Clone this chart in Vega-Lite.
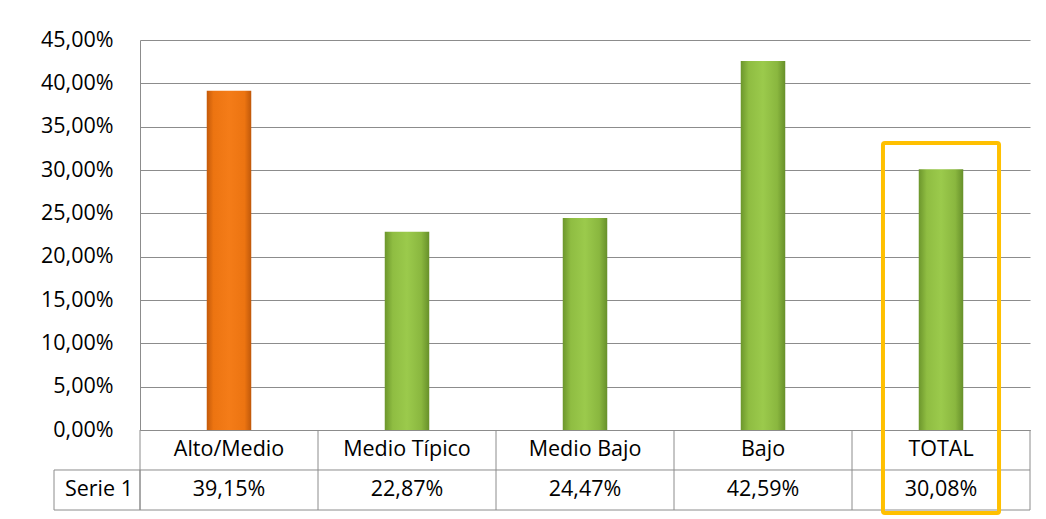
{
  "$schema": "https://vega.github.io/schema/vega-lite/v6.json",
  "width": 890,
  "height": 390,
  "autosize": {"type": "none"},
  "padding": {"left": 140, "top": 40, "right": 16, "bottom": 89},
  "background": "white",
  "config": {
    "font": "Open Sans",
    "view": {"stroke": null},
    "locale": {"number": {"decimal": ",", "thousands": ".", "grouping": [3], "currency": ["", " €"]}}
  },
  "data": {"values": [
    {"cat": "Alto/Medio", "value": 0.3915},
    {"cat": "Medio Típico", "value": 0.2287},
    {"cat": "Medio Bajo", "value": 0.2447},
    {"cat": "Bajo", "value": 0.4259},
    {"cat": "TOTAL", "value": 0.3008}
  ]},
  "resolve": {"scale": {"x": "shared", "y": "shared"}},
  "layer": [
    {
      "mark": {"type": "bar", "width": {"band": 0.25}},
      "encoding": {
        "x": {"field": "cat", "type": "nominal", "sort": null,
          "scale": {"paddingInner": 0, "paddingOuter": 0},
          "axis": {"title": null, "labelAngle": 0, "labelFontSize": 21.5, "labelColor": "#000000", "labelPadding": 8, "ticks": false, "domain": true, "domainColor": "#8c8c8c", "grid": false}},
        "y": {"field": "value", "type": "quantitative",
          "scale": {"domain": [0, 0.45], "nice": false, "zero": false},
          "axis": {"title": null, "values": [0, 0.05, 0.1, 0.15, 0.2, 0.25, 0.3, 0.35, 0.4, 0.45], "format": ".2%", "labelFontSize": 21.5, "labelColor": "#000000", "labelPadding": 27, "ticks": false, "domain": true, "domainColor": "#8c8c8c", "grid": true, "gridColor": "#8c8c8c", "gridWidth": 1}},
        "color": {
          "condition": {"test": "datum.cat === 'Alto/Medio'", "value": {"gradient": "linear", "x1": 0, "x2": 1, "y1": 0, "y2": 0, "stops": [
            {"offset": 0, "color": "#C45A0A"}, {"offset": 0.15, "color": "#EC7411"}, {"offset": 0.5, "color": "#F47C18"}, {"offset": 0.85, "color": "#EC7411"}, {"offset": 1, "color": "#BF580A"}]}},
          "value": {"gradient": "linear", "x1": 0, "x2": 1, "y1": 0, "y2": 0, "stops": [
            {"offset": 0, "color": "#6C962C"}, {"offset": 0.18, "color": "#8FBD42"}, {"offset": 0.5, "color": "#9BCA4C"}, {"offset": 0.82, "color": "#8AB73F"}, {"offset": 1, "color": "#67902A"}]}
        }
      }
    },
    {
      "mark": {"type": "text", "fontSize": 21.5, "color": "#000000", "baseline": "middle", "align": "center"},
      "encoding": {
        "x": {"field": "cat", "type": "nominal", "sort": null},
        "y": {"datum": -0.06923},
        "text": {"field": "value", "type": "quantitative", "format": ".2%"}
      }
    },
    {
      "data": {"values": [{}]},
      "mark": {"type": "rule", "color": "#8c8c8c", "strokeWidth": 1},
      "encoding": {"y": {"datum": -0.04615}}
    },
    {
      "data": {"values": [{}]},
      "mark": {"type": "rule", "color": "#8c8c8c", "strokeWidth": 1},
      "encoding": {"y": {"datum": -0.09231}}
    },
    {
      "mark": {"type": "rule", "color": "#8c8c8c", "strokeWidth": 1},
      "encoding": {
        "x": {"field": "cat", "type": "nominal", "sort": null, "bandPosition": 0},
        "y": {"datum": 0},
        "y2": {"datum": -0.09231}
      }
    },
    {
      "transform": [{"filter": "datum.cat === 'TOTAL'"}],
      "mark": {"type": "rule", "color": "#8c8c8c", "strokeWidth": 1},
      "encoding": {
        "x": {"field": "cat", "type": "nominal", "sort": null, "bandPosition": 1},
        "y": {"datum": 0},
        "y2": {"datum": -0.09231}
      }
    },
    {
      "transform": [{"filter": "datum.cat === 'Alto/Medio'"}],
      "mark": {"type": "rect", "fill": null, "stroke": "#8c8c8c", "strokeWidth": 1, "xOffset": -86, "x2Offset": -89},
      "encoding": {
        "x": {"field": "cat", "type": "nominal", "sort": null, "bandPosition": 0},
        "x2": {"datum": "Alto/Medio"},
        "y": {"datum": -0.04615},
        "y2": {"datum": -0.09231}
      }
    },
    {
      "data": {"values": [{"series": "Serie 1", "cat": "Alto/Medio"}]},
      "mark": {"type": "text", "fontSize": 21.5, "color": "#000000", "baseline": "middle", "align": "right", "dx": -7},
      "encoding": {
        "x": {"field": "cat", "type": "nominal", "sort": null, "bandPosition": 0},
        "y": {"datum": -0.06923},
        "text": {"field": "series"}
      }
    },
    {
      "transform": [{"filter": "datum.cat === 'TOTAL'"}],
      "mark": {"type": "bar", "width": {"band": 0.652}, "fill": null, "stroke": "#FFC000", "strokeWidth": 4, "cornerRadius": 2},
      "encoding": {
        "x": {"field": "cat", "type": "nominal", "sort": null},
        "y": {"datum": 0.3312},
        "y2": {"datum": -0.0958}
      }
    }
  ]
}
